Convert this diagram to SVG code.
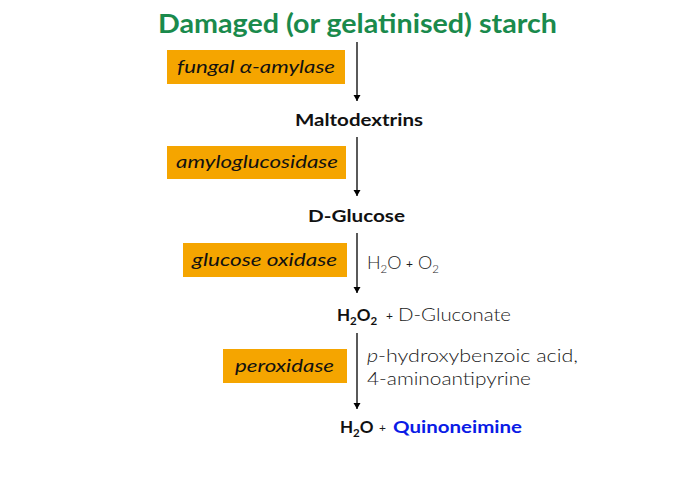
<svg xmlns="http://www.w3.org/2000/svg" width="690" height="480" viewBox="0 0 690 480">
<style>
.title{font-family:Lato,"Open Sans",sans-serif;font-weight:700;font-size:26px;fill:#1a8a4c}
.enz{font-family:Lato,"Open Sans",sans-serif;font-style:italic;font-size:18px;fill:#111}
.box{fill:#f5a500}
.b{font-family:Lato,"Open Sans",sans-serif;font-weight:700;font-size:17px;fill:#111}
.l{font-family:Lato,"Open Sans",sans-serif;font-weight:300;font-size:18px;fill:#1a1a1a}
.p{font-family:Lato,"Open Sans",sans-serif;font-weight:400;font-size:12px;fill:#1a1a1a}
.sub{font-size:11.5px}
.q{fill:#0a1be6}
.arr{stroke:#000;stroke-width:1.3;fill:none;marker-end:url(#ah)}
</style>
<defs>
<marker id="ah" viewBox="0 0 6 10" refX="6" refY="5" markerWidth="6" markerHeight="10" markerUnits="userSpaceOnUse" orient="auto">
<path d="M0,1.5 L6,5 L0,8.5 Z" fill="#000"/>
</marker>
</defs>
<rect width="690" height="480" fill="#fff"/>
<g id="connectors">
<line class="arr" x1="357" y1="42" x2="357" y2="101"/>
<line class="arr" x1="357" y1="137" x2="357" y2="196"/>
<line class="arr" x1="357" y1="233" x2="357" y2="293"/>
<line class="arr" x1="357" y1="333" x2="357" y2="409"/>
</g>
<g id="starch"><text class="title" x="158" y="33" textLength="399" lengthAdjust="spacingAndGlyphs">Damaged (or gelatinised) starch</text></g>
<g id="enz1"><rect class="box" x="167" y="50" width="178" height="34"/><text class="enz" x="177" y="73" textLength="158" lengthAdjust="spacingAndGlyphs">fungal α-amylase</text></g>
<g id="maltodextrins"><text class="b" x="295" y="126" textLength="128" lengthAdjust="spacingAndGlyphs">Maltodextrins</text></g>
<g id="enz2"><rect class="box" x="167" y="146" width="179" height="33"/><text class="enz" x="176" y="168" textLength="162" lengthAdjust="spacingAndGlyphs">amyloglucosidase</text></g>
<g id="glucose"><text class="b" x="308" y="222" textLength="97" lengthAdjust="spacingAndGlyphs">D-Glucose</text></g>
<g id="enz3"><rect class="box" x="183" y="243" width="164" height="34"/><text class="enz" x="192" y="266" textLength="145" lengthAdjust="spacingAndGlyphs">glucose oxidase</text></g>
<g id="cosub1"><text class="l" x="367" y="269">H<tspan class="sub" dy="4">2</tspan><tspan dy="-4">O</tspan></text><text class="p" x="406" y="268">+</text><text class="l" x="418" y="269">O<tspan class="sub" dy="4">2</tspan></text></g>
<g id="h2o2"><text class="b" x="337" y="321">H<tspan class="sub" dy="4">2</tspan><tspan dy="-4">O</tspan><tspan class="sub" dy="4">2</tspan></text><text class="p" x="386" y="320">+</text><text class="l" x="398" y="321" textLength="113" lengthAdjust="spacingAndGlyphs">D-Gluconate</text></g>
<g id="enz4"><rect class="box" x="223" y="349" width="124" height="34"/><text class="enz" x="235" y="372" textLength="99" lengthAdjust="spacingAndGlyphs">peroxidase</text></g>
<g id="cosub2"><text class="l" x="367" y="362" textLength="211" lengthAdjust="spacingAndGlyphs"><tspan font-style="italic">p</tspan>-hydroxybenzoic acid,</text><text class="l" x="367" y="385" textLength="164" lengthAdjust="spacingAndGlyphs">4-aminoantipyrine</text></g>
<g id="product"><text class="b" x="340" y="433">H<tspan class="sub" dy="4">2</tspan><tspan dy="-4">O</tspan></text><text class="p" x="379" y="432">+</text><text class="b q" x="393" y="433" textLength="129" lengthAdjust="spacingAndGlyphs">Quinoneimine</text></g>
</svg>
